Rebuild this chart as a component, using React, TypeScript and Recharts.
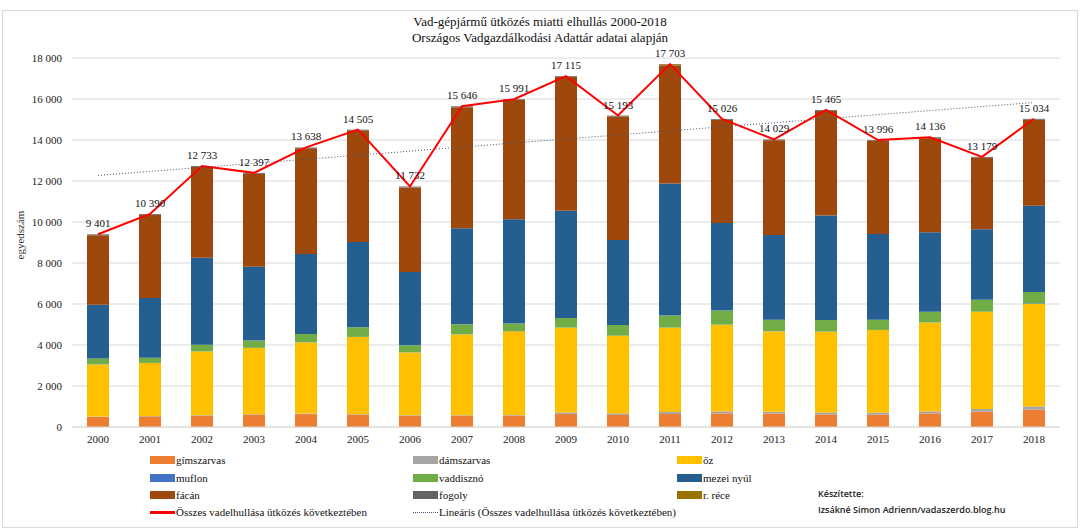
import React from "react";
import { ComposedChart, Bar, Line, XAxis, YAxis, CartesianGrid, LabelList, ReferenceLine } from "recharts";

const years = ["2000", "2001", "2002", "2003", "2004", "2005", "2006", "2007", "2008", "2009", "2010", "2011", "2012", "2013", "2014", "2015", "2016", "2017", "2018"];
const gimszarvas = [490, 520, 550, 600, 630, 600, 550, 550, 560, 630, 585, 634, 663, 663, 615, 600, 663, 746, 844];
const damszarvas = [20, 20, 25, 25, 25, 25, 25, 25, 25, 80, 75, 98, 98, 75, 97, 97, 98, 130, 161];
const oz = [2540, 2580, 3110, 3230, 3470, 3765, 3065, 3940, 4080, 4135, 3790, 4112, 4229, 3926, 3937, 4034, 4336, 4746, 4995];
const muflon = [5, 5, 5, 5, 5, 5, 5, 5, 5, 5, 5, 5, 5, 5, 5, 5, 5, 5, 30];
const vaddiszno = [290, 255, 327, 356, 410, 469, 340, 490, 376, 468, 520, 585, 683, 566, 566, 498, 517, 581, 555];
const mezeiNyul = [2620, 2910, 4244, 3595, 3900, 4165, 3580, 4683, 5088, 5234, 4146, 6439, 4278, 4132, 5097, 4176, 3883, 3444, 4210];
const facan = [3391, 4055, 4427, 4541, 5153, 5431, 4122, 5908, 5812, 6518, 6027, 5760, 5025, 4617, 5103, 4541, 4589, 3482, 4194];
const fogoly = [40, 40, 40, 40, 40, 40, 40, 40, 40, 40, 40, 30, 40, 40, 40, 40, 40, 40, 40];
const rRece = [5, 5, 5, 5, 5, 5, 5, 5, 5, 5, 5, 40, 5, 5, 5, 5, 5, 5, 5];
const osszes = [9401, 10390, 12733, 12397, 13638, 14505, 11732, 15646, 15991, 17115, 15193, 17703, 15026, 14029, 15465, 13996, 14136, 13179, 15034];
const trendStart = 12270;
const trendEnd = 15830;
const yTicks = [0, 2000, 4000, 6000, 8000, 10000, 12000, 14000, 16000, 18000];

const series = [
  { key: "gimszarvas", name: "gímszarvas", color: "#ED7D31", values: gimszarvas },
  { key: "damszarvas", name: "dámszarvas", color: "#A5A5A5", values: damszarvas },
  { key: "oz", name: "őz", color: "#FFC000", values: oz },
  { key: "muflon", name: "muflon", color: "#4472C4", values: muflon },
  { key: "vaddiszno", name: "vaddisznó", color: "#70AD47", values: vaddiszno },
  { key: "mezeiNyul", name: "mezei nyúl", color: "#255E91", values: mezeiNyul },
  { key: "facan", name: "fácán", color: "#9E480E", values: facan },
  { key: "fogoly", name: "fogoly", color: "#636363", values: fogoly },
  { key: "rRece", name: "r. réce", color: "#997300", values: rRece },
];

const data = years.map((y, i) => {
  const row: Record<string, string | number> = { year: y, osszes: osszes[i] };
  series.forEach((s) => (row[s.key] = s.values[i]));
  return row;
});

const fmt = (v: any) => String(v).replace(/\B(?=(\d{3})+(?!\d))/g, " ");

const serif = "'Liberation Serif', 'Times New Roman', serif";
const legendCols = [150, 413, 677];
const legendRows = [460, 478, 495, 512];

export default function App() {
  return (
    <div style={{ position: "absolute", left: 0, top: 0, width: 1080, height: 531, background: "#fff", fontFamily: serif }}>
      <div style={{ position: "absolute", left: 2, top: 10, width: 1074, height: 516, border: "1px solid #D9D9D9" }} />
      <div style={{ position: "absolute", left: 0, top: 14, width: 1080, textAlign: "center", fontSize: 13, lineHeight: "16px", color: "#111" }}>
        <div>Vad-gépjármű ütközés miatti elhullás 2000-2018</div>
        <div>Országos Vadgazdálkodási Adattár adatai alapján</div>
      </div>
      <div style={{ position: "absolute", left: 20, top: 235, fontSize: 11, color: "#333", transform: "translate(-50%, -50%) rotate(-90deg)", whiteSpace: "nowrap" }}>
        egyedszám
      </div>
      <div style={{ position: "absolute", left: 0, top: 0 }}>
        <ComposedChart width={1080} height={531} data={data} margin={{ top: 58, right: 20, bottom: 0, left: 0 }}>
          <CartesianGrid vertical={false} stroke="#D9D9D9" />
          <XAxis dataKey="year" height={104} tickLine={false} axisLine={{ stroke: "#D9D9D9" }} tick={{ fontSize: 11, fill: "#222", fontFamily: serif }} interval={0} />
          <YAxis width={72} domain={[0, 18000]} ticks={yTicks} tickLine={false} axisLine={false} tickFormatter={fmt} tickMargin={4} tick={{ fontSize: 11, fill: "#222", fontFamily: serif }} />
          {series.map((s) => (
            <Bar key={s.key} dataKey={s.key} name={s.name} stackId="a" fill={s.color} barSize={22} isAnimationActive={false} />
          ))}
          <Line dataKey="osszes" stroke="#FF0000" strokeWidth={2} dot={false} isAnimationActive={false}>
            <LabelList dataKey="osszes" position="top" offset={7} formatter={fmt} style={{ fontSize: 11, fill: "#111", fontFamily: serif }} />
          </Line>
          <ReferenceLine segment={[{ x: years[0], y: trendStart }, { x: years[years.length - 1], y: trendEnd }]} stroke="#44546A" strokeDasharray="1 2" strokeWidth={1} ifOverflow="visible" />
        </ComposedChart>
      </div>
      {series.map((s, i) => {
        const col = legendCols[i % 3];
        const row = legendRows[Math.floor(i / 3)];
        return (
          <div key={s.key}>
            <div style={{ position: "absolute", left: col, top: row - 4, width: 25, height: 8, background: s.color }} />
            <div style={{ position: "absolute", left: col + 26, top: row - 7, fontSize: 11, lineHeight: "14px", color: "#111", whiteSpace: "nowrap" }}>{s.name}</div>
          </div>
        );
      })}
      <div style={{ position: "absolute", left: legendCols[0], top: legendRows[3] - 1, width: 25, height: 3, background: "#FF0000" }} />
      <div style={{ position: "absolute", left: legendCols[0] + 26, top: legendRows[3] - 7, fontSize: 11, lineHeight: "14px", color: "#111", whiteSpace: "nowrap" }}>
        Összes vadelhullása ütközés következtében
      </div>
      <div style={{ position: "absolute", left: legendCols[1], top: legendRows[3], width: 25, height: 0, borderTop: "1px dotted #44546A" }} />
      <div style={{ position: "absolute", left: legendCols[1] + 26, top: legendRows[3] - 7, fontSize: 11, lineHeight: "14px", color: "#111", whiteSpace: "nowrap" }}>
        Lineáris (Összes vadelhullása ütközés következtében)
      </div>
      <div style={{ position: "absolute", left: 818, top: 486, fontFamily: "'Open Sans', sans-serif", fontSize: 9, fontWeight: 600, lineHeight: "16px", color: "#222", whiteSpace: "nowrap" }}>
        <div>Készítette:</div>
        <div>Izsákné Simon Adrienn/vadaszerdo.blog.hu</div>
      </div>
    </div>
  );
}
